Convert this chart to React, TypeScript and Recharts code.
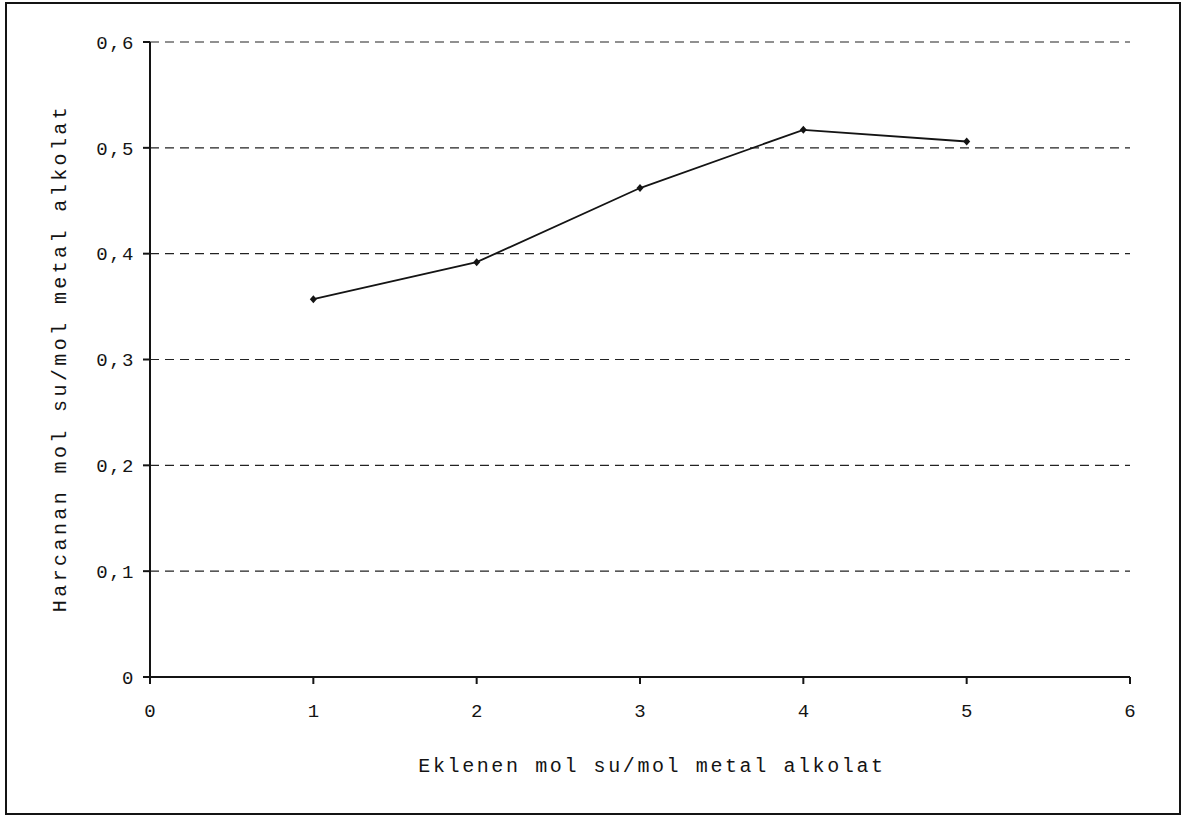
import { LineChart, Line, XAxis, YAxis, CartesianGrid, Label } from "recharts";

const xValues = [1, 2, 3, 4, 5];
const yValues = [0.357, 0.392, 0.462, 0.517, 0.506];
const xTicks = [0, 1, 2, 3, 4, 5, 6];
const yTicks = [0, 0.1, 0.2, 0.3, 0.4, 0.5, 0.6];

const xTitle = "Eklenen mol su/mol metal alkolat";
const yTitle = "Harcanan mol su/mol metal alkolat";

const data = xValues.map((x, i) => ({ x, y: yValues[i] }));

const font = "'Liberation Mono', 'Courier New', monospace";
const ink = "#141414";

const Diamond = (props: any) => {
  const { cx, cy } = props;
  if (cx == null || cy == null) return null;
  const r = 4;
  return (
    <polygon
      points={`${cx},${cy - r} ${cx + r - 0.5},${cy} ${cx},${cy + r} ${cx - r + 0.5},${cy}`}
      fill={ink}
    />
  );
};

const fmt = (v: number) => (v === 0 ? "0" : String(Math.round(v * 10) / 10).replace(".", ","));

export default function App() {
  return (
    <div style={{ position: "absolute", left: 0, top: 0, width: 1184, height: 823, background: "#fff" }}>
      <div
        style={{
          position: "absolute",
          left: 5,
          top: 2,
          width: 1172,
          height: 809,
          border: `2px solid ${ink}`,
        }}
      />
      <LineChart
        width={1184}
        height={823}
        data={data}
        margin={{ top: 42, right: 54, bottom: 116, left: 90 }}
        style={{ position: "absolute", left: 0, top: 0 }}
      >
        <CartesianGrid vertical={false} stroke="#222" strokeDasharray="9 6" strokeWidth={1.2} horizontalValues={yTicks.slice(1)} />
        <XAxis
          dataKey="x"
          type="number"
          domain={[0, 6]}
          ticks={xTicks}
          interval={0}
          height={30}
          stroke={ink}
          strokeWidth={2}
          tickSize={7}
          tickMargin={20}
          tick={{ fill: ink, fontFamily: font, fontSize: 19 }}
        >
          <Label
            content={() => (
              <text x={652} y={772} textAnchor="middle" fill={ink} fontFamily={font} fontSize={20} letterSpacing={2.6}>
                {xTitle}
              </text>
            )}
          />
        </XAxis>
        <YAxis
          dataKey="y"
          type="number"
          domain={[0, 0.6]}
          ticks={yTicks}
          interval={0}
          width={60}
          stroke={ink}
          strokeWidth={2}
          tickSize={7}
          tickMargin={8}
          tickFormatter={fmt}
          tick={{ fill: ink, fontFamily: font, fontSize: 19, letterSpacing: 1.5 }}
        >
          <Label
            content={() => (
              <text
                x={66}
                y={358}
                transform="rotate(-90 66 358)"
                textAnchor="middle"
                fill={ink}
                fontFamily={font}
                fontSize={20}
                letterSpacing={3.4}
              >
                {yTitle}
              </text>
            )}
          />
        </YAxis>
        <Line
          type="linear"
          dataKey="y"
          stroke={ink}
          strokeWidth={1.8}
          dot={<Diamond />}
          activeDot={false}
          isAnimationActive={false}
        />
      </LineChart>
    </div>
  );
}
